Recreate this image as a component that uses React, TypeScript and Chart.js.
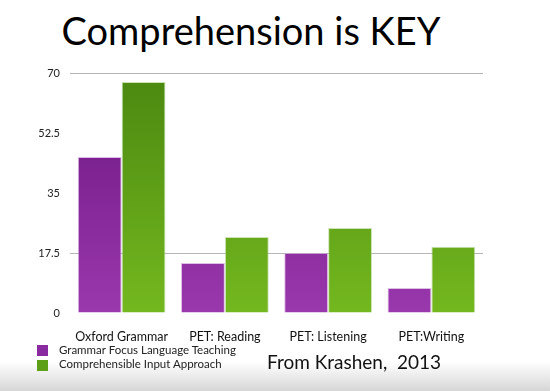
import React, { useEffect, useRef } from "react";
import { Chart, registerables } from "chart.js";

Chart.register(...registerables);

const categories = ["Oxford Grammar", "PET: Reading", "PET: Listening", "PET:Writing"];
const grammarFocus = [45.5, 14.6, 17.5, 7.3];
const comprehensibleInput = [67.4, 22.2, 24.8, 19.3];
const yTicks = [0, 17.5, 35, 52.5, 70];
const seriesNames = ["Grammar Focus Language Teaching", "Comprehensible Input Approach"];
const titleText = "Comprehension is KEY";
const sourceText = "From Krashen,  2013";

const FONT = "Lato, 'Open Sans', sans-serif";

function grad(ctx: any, top: string, bottom: string) {
  const chart = ctx.chart;
  const area = chart.chartArea;
  if (!area) return top;
  const g = chart.ctx.createLinearGradient(0, area.top, 0, area.bottom);
  g.addColorStop(0, top);
  g.addColorStop(1, bottom);
  return g;
}

export default function App() {
  const ref = useRef<HTMLCanvasElement | null>(null);

  useEffect(() => {
    if (!ref.current) return;
    const chart = new Chart(ref.current, {
      type: "bar",
      data: {
        labels: categories,
        datasets: [
          {
            label: seriesNames[0],
            data: grammarFocus,
            backgroundColor: (c: any) => grad(c, "#6c1580", "#9a38ad"),
            borderColor: "rgba(200,150,210,0.6)",
            borderWidth: 1,
            categoryPercentage: 0.85,
            barPercentage: 1,
          },
          {
            label: seriesNames[1],
            data: comprehensibleInput,
            backgroundColor: (c: any) => grad(c, "#4a8810", "#74b81f"),
            borderColor: "rgba(170,210,130,0.6)",
            borderWidth: 1,
            categoryPercentage: 0.85,
            barPercentage: 1,
          },
        ],
      },
      options: {
        animation: false,
        responsive: false,
        maintainAspectRatio: false,
        layout: { padding: { left: 20, right: 67, top: 73, bottom: 48 } },
        plugins: {
          legend: { display: false },
          title: { display: false },
          tooltip: { enabled: false },
        },
        scales: {
          x: {
            grid: { display: false },
            border: { display: false },
            ticks: {
              color: "#111",
              font: { family: FONT, size: 12.5 },
              padding: 8,
              maxRotation: 0,
            },
            afterFit: (s: any) => {
              s.height = 30;
            },
          },
          y: {
            min: 0,
            max: 70,
            afterBuildTicks: (s: any) => {
              s.ticks = yTicks.map((v) => ({ value: v }));
            },
            ticks: {
              color: "#222",
              font: { family: FONT, size: 11 },
              padding: 10,
              callback: (v: any) => String(v),
            },
            grid: {
              drawTicks: false,
              color: (c: any) =>
                c.tick && (c.tick.value === 70 || c.tick.value === 17.5) ? "#b5b5b5" : "rgba(0,0,0,0)",
              lineWidth: 1,
            },
            border: { display: false },
            afterFit: (s: any) => {
              s.width = 50;
            },
          },
        },
      },
    });
    return () => chart.destroy();
  }, []);

  return (
    <div
      style={{
        position: "fixed",
        left: 0,
        top: 0,
        width: 550,
        height: 391,
        overflow: "hidden",
        background: "linear-gradient(to bottom, #ffffff 0px, #ffffff 362px, #d6d6d6 391px)",
        fontFamily: FONT,
      }}
    >
      <div
        style={{
          position: "absolute",
          left: 0,
          top: 8,
          width: 502,
          textAlign: "center",
          fontSize: 38,
          lineHeight: "44px",
          color: "#000",
        }}
      >
        {titleText}
      </div>
      <canvas ref={ref} width={550} height={391} style={{ position: "absolute", left: 0, top: 0 }} />
      <div style={{ position: "absolute", left: 37, top: 345, width: 11, height: 11, background: "#8a2aa0" }} />
      <div style={{ position: "absolute", left: 37, top: 360, width: 11, height: 11, background: "#5e9f18" }} />
      <div style={{ position: "absolute", left: 59, top: 342, fontSize: 11.5, lineHeight: "15px", color: "#222" }}>
        {seriesNames[0]}
      </div>
      <div style={{ position: "absolute", left: 59, top: 356, fontSize: 11.5, lineHeight: "15px", color: "#222" }}>
        {seriesNames[1]}
      </div>
      <div
        style={{
          position: "absolute",
          left: 267,
          top: 350,
          fontSize: 19,
          lineHeight: "24px",
          color: "#111",
          whiteSpace: "pre",
        }}
      >
        {sourceText}
      </div>
    </div>
  );
}
